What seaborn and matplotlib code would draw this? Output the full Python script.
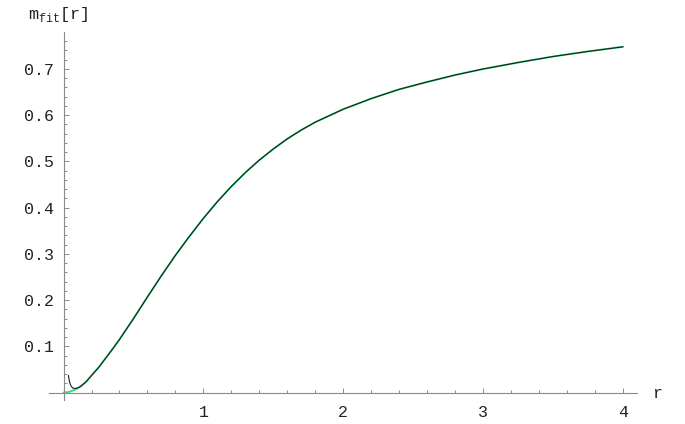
import matplotlib
matplotlib.use('Agg')
import matplotlib.pyplot as plt
import seaborn as sns
import pandas as pd

# shared part of both curves (r, m_fit)
r_main = [0.2, 0.25, 0.3, 0.35, 0.4, 0.5, 0.6, 0.7, 0.8, 0.9, 1.0, 1.1, 1.2, 1.3, 1.4, 1.5,
          1.6, 1.7, 1.8, 2.0, 2.2, 2.4, 2.6, 2.8, 3.0, 3.25, 3.5, 3.75, 4.0]
m_main = [0.037, 0.054, 0.074, 0.094, 0.115, 0.160, 0.207, 0.253, 0.297, 0.338, 0.377,
          0.413, 0.446, 0.476, 0.503, 0.527, 0.549, 0.568, 0.585, 0.613, 0.636, 0.656,
          0.672, 0.687, 0.700, 0.714, 0.727, 0.738, 0.748]

# start of the green curve
r_green_start = [0.0, 0.04, 0.08, 0.12, 0.16]
m_green_start = [0.0, 0.0015, 0.006, 0.013, 0.023]

# start of the black curve (little dip near 0)
r_black_start = [0.035, 0.042, 0.052, 0.065, 0.082, 0.10, 0.12, 0.16]
m_black_start = [0.037, 0.024, 0.015, 0.010, 0.009, 0.010, 0.013, 0.023]

green = pd.DataFrame({'r': r_green_start + r_main, 'm': m_green_start + m_main})
black = pd.DataFrame({'r': r_black_start + r_main, 'm': m_black_start + m_main})

sns.set_style('white')
plt.rcParams['font.family'] = ['Liberation Mono', 'DejaVu Sans Mono']
plt.rcParams['mathtext.fontset'] = 'custom'
plt.rcParams['mathtext.rm'] = 'Liberation Mono'

fig = plt.figure(figsize=(6.85, 4.24), dpi=100)
ax = fig.add_axes([49 / 685, 1 - 400 / 424, 588 / 685, 368 / 424])

sns.lineplot(data=green, x='r', y='m', ax=ax, color='#33e07f', lw=1.4,
             sort=False, estimator=None)
sns.lineplot(data=black, x='r', y='m', ax=ax, color='#1a1a1a', lw=0.8,
             sort=False, estimator=None)

ax.set_xlim(-0.104, 4.10)
ax.set_ylim(-0.016, 0.78)

for s in ['top', 'right']:
    ax.spines[s].set_visible(False)
ax.spines['left'].set_position(('data', 0))
ax.spines['bottom'].set_position(('data', 0))
for s in ['left', 'bottom']:
    ax.spines[s].set_color('#8a8a8a')
    ax.spines[s].set_linewidth(0.8)

ax.set_xticks([1, 2, 3, 4])
ax.set_xticks([x / 5 for x in range(1, 21)], minor=True)
ax.set_yticks([0.1, 0.2, 0.3, 0.4, 0.5, 0.6, 0.7])
ax.set_yticks([y / 50 for y in range(1, 39)], minor=True)
ax.set_yticklabels(['0.1', '0.2', '0.3', '0.4', '0.5', '0.6', '0.7'])
ax.tick_params(which='both', direction='in', color='#8a8a8a', width=0.7,
               bottom=True, left=True, labelsize=12, labelcolor='#222222')
ax.tick_params(which='major', length=3.5)
ax.tick_params(which='minor', length=2)
ax.tick_params(axis='x', pad=9)
ax.tick_params(axis='y', pad=7)

ax.set_xlabel('')
ax.set_ylabel('')
fig.text(652 / 685, 1 - 393 / 424, 'r', fontsize=12, va='center', ha='left', color='#222222')
fig.text(28 / 685, 1 - 15 / 424, r'$\mathrm{m}_{\mathrm{fit}}\mathrm{[r]}$', fontsize=12,
         va='center', ha='left', color='#222222')

fig.savefig('out.png', dpi=100)
